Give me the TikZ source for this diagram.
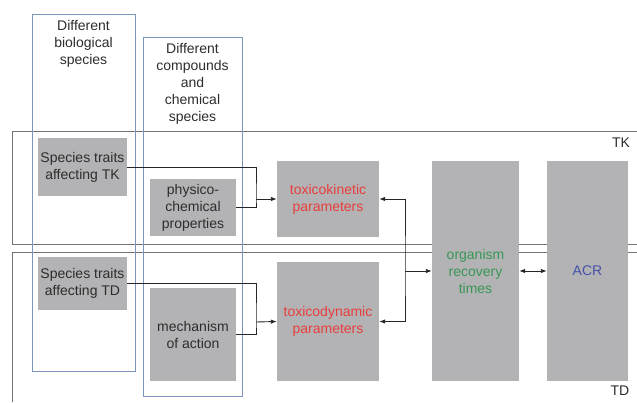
\documentclass[tikz,border=0pt]{standalone}
\usepackage{fontspec}
\setmainfont{Liberation Sans}
\usepackage{xcolor}
\usetikzlibrary{arrows.meta}

\definecolor{boxgray}{RGB}{179,179,181}
\definecolor{framblue}{RGB}{125,150,190}
\definecolor{bandgray}{RGB}{115,115,115}
\definecolor{txtdark}{RGB}{45,45,45}
\definecolor{txtred}{RGB}{232,62,60}
\definecolor{txtgreen}{RGB}{55,150,85}
\definecolor{txtblue}{RGB}{70,82,170}

\begin{document}
\begin{tikzpicture}[
  x=1pt, y=-1pt,
  font=\fontsize{14}{17}\selectfont,
  >={Latex[length=6pt,width=4.5pt]},
  box/.style={fill=boxgray, text=txtdark, align=center, inner sep=0pt},
  frame/.style={draw=framblue, line width=0.8pt},
  band/.style={draw=bandgray, line width=0.8pt},
  link/.style={draw=black!85, line width=0.9pt},
]
\useasboundingbox (0,0) rectangle (637,402);

% TK / TD bands (open on the right)
\draw[band] (637,131) -- (12,131) -- (12,244) -- (637,244);
\draw[band] (637,252) -- (12,252) -- (12,402);
\node[text=txtdark] (tklabel) at (621,143) {TK};
\node[text=txtdark] (tdlabel) at (620,391) {TD};

% Columns for species and compounds
\draw[frame] (32,14) rectangle (135,371);
\draw[frame] (143,37) rectangle (242,396);
\node[text=txtdark, align=center] (biohead) at (83.5,44) {Different\\biological\\species};
\node[text=txtdark, align=center] (chemhead) at (192.5,84) {Different\\compounds\\and\\chemical\\species};

% Input boxes
\node[box, minimum width=89pt, minimum height=58pt] (tktraits) at (82.5,167) {Species traits\\affecting TK};
\node[box, minimum width=86pt, minimum height=57pt] (physchem) at (193,207.5) {physico-\\chemical\\properties};
\node[box, minimum width=89pt, minimum height=53pt] (tdtraits) at (82.5,283.5) {Species traits\\affecting TD};
\node[box, minimum width=86pt, minimum height=93pt] (moa) at (193,334.5) {mechanism\\of action};

% Parameter boxes
\node[box, text=txtred, minimum width=102pt, minimum height=76pt] (tkpar) at (328,199) {toxicokinetic\\parameters};
\node[box, text=txtred, minimum width=102pt, minimum height=119pt] (tdpar) at (328,321.5) {toxicodynamic\\parameters};

% Recovery and ACR
\node[box, text=txtgreen, minimum width=87pt, minimum height=220pt] (ort) at (475.5,271) {organism\\recovery\\times};
\node[box, text=txtblue, minimum width=81pt, minimum height=220pt] (acr) at (587.5,271) {ACR};

% Connectors
\coordinate (tkjoin) at (256,199);
\coordinate (tdjoin) at (256,322);
\coordinate (rjoin) at (405,271);

\draw[link] (tktraits.east) -| (tkjoin) |- (physchem.east);
\draw[link, ->] (tkjoin) -- (tkpar.west);
\draw[link] (tdtraits.east) -| (tdjoin) |- (moa.east);
\draw[link, ->] (tdjoin) -- (tdpar.west);

\draw[link, <->] (tkpar.east) -| (rjoin) |- (tdpar.east);
\draw[link, ->] (rjoin) -- (ort.west);
\draw[link, <->] (ort.east) -- (acr.west);

\end{tikzpicture}
\end{document}
